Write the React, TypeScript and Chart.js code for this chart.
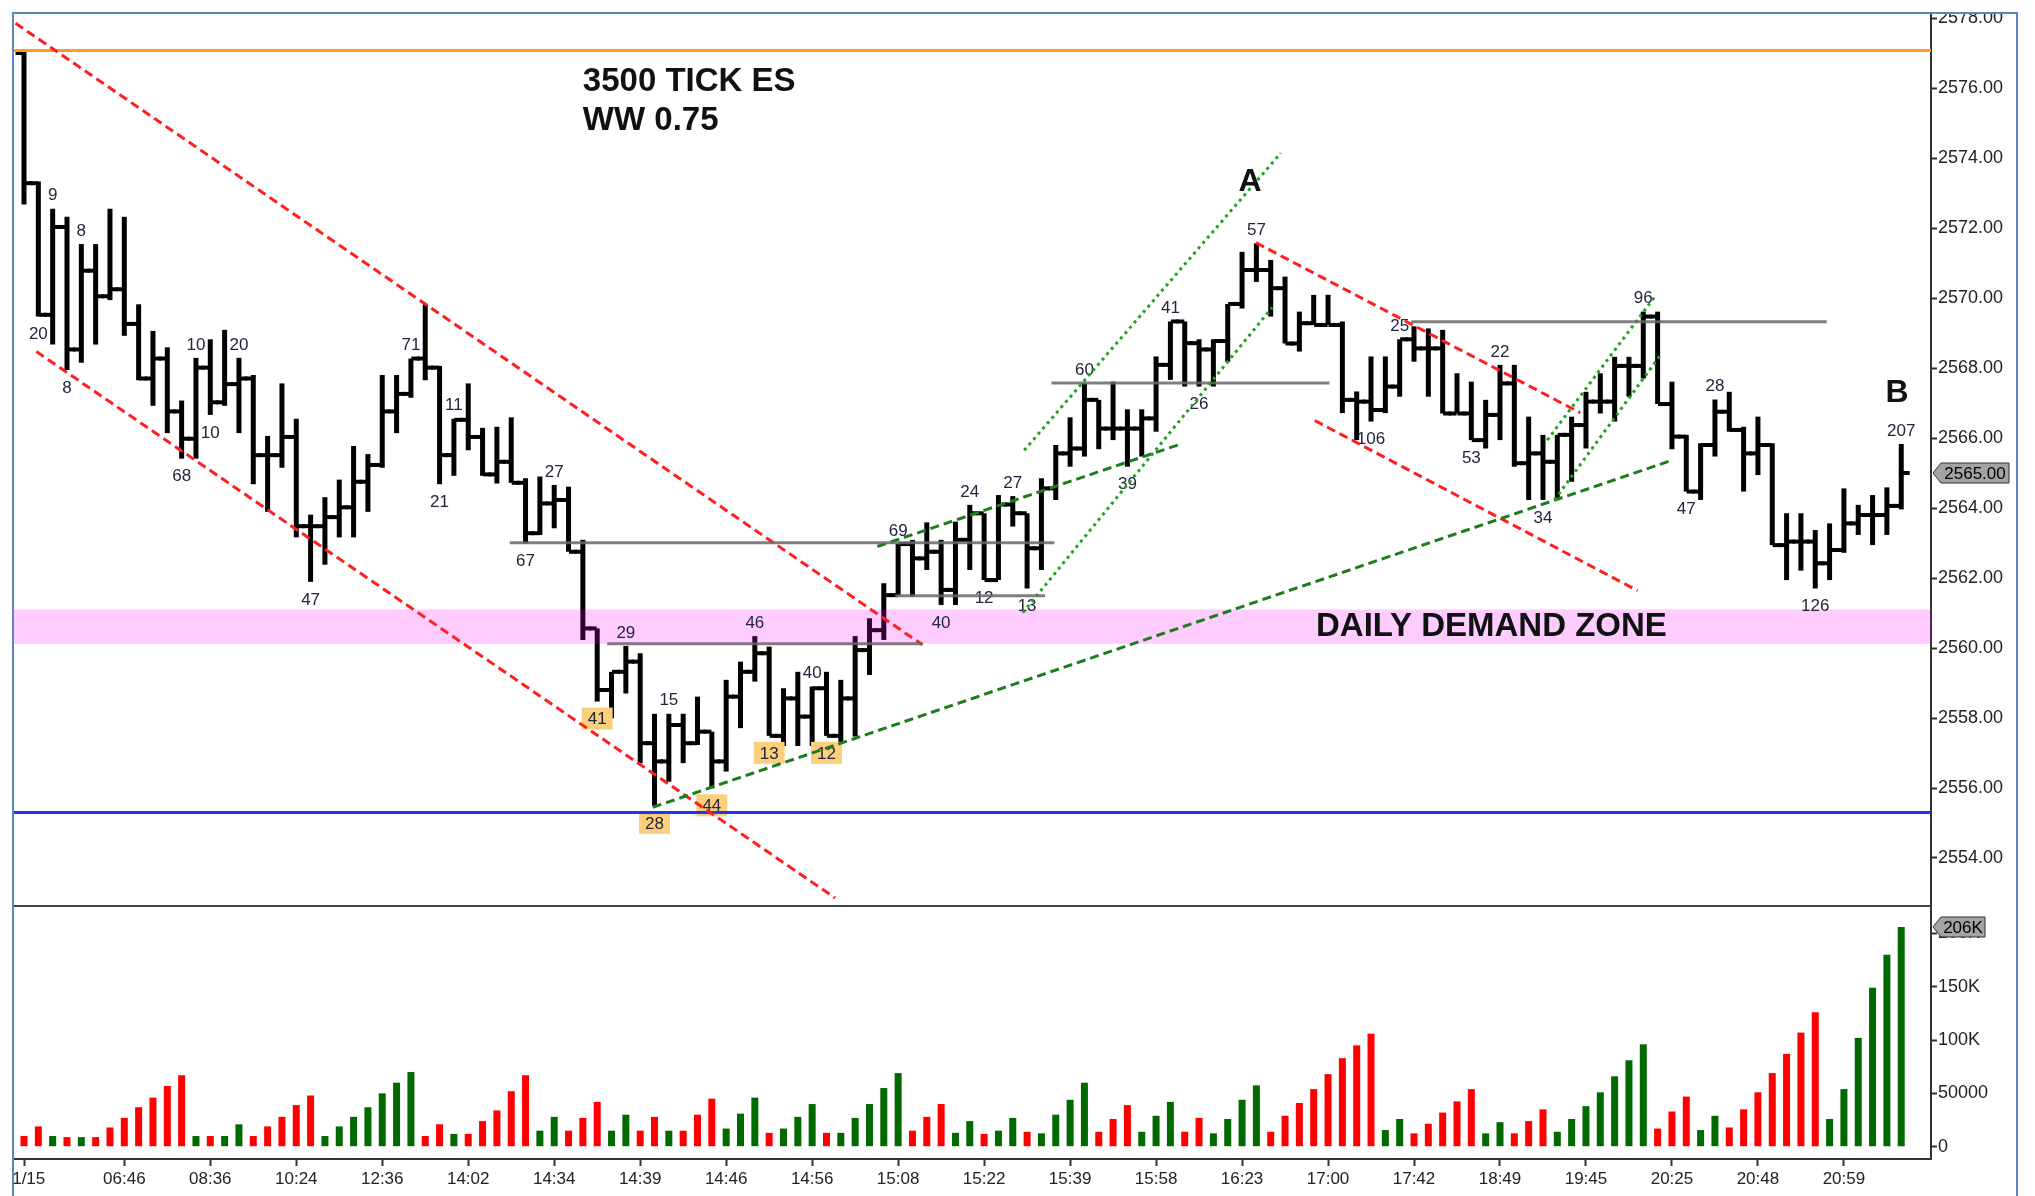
import React, { useEffect, useRef } from 'react';
import { Chart, registerables } from 'chart.js';

Chart.register(...registerables);

// ------------------------------------------------------------------ data
const barHigh = [
  2577.08, 2573.33, 2572.55, 2572.32, 2571.54, 2571.54, 2572.55, 2572.32, 2569.82, 2569.06,
  2568.59, 2567.07, 2568.29, 2568.82, 2569.09, 2568.29, 2567.80, 2566.06, 2567.56, 2566.55,
  2563.81, 2564.31, 2564.81, 2565.77, 2565.54, 2567.80, 2567.80, 2568.27, 2569.82, 2568.06,
  2566.55, 2567.56, 2566.29, 2566.32, 2566.59, 2564.85, 2564.90, 2564.66, 2564.61, 2563.09,
  2560.56, 2559.32, 2560.06, 2559.85, 2558.12, 2558.12, 2558.12, 2558.61, 2557.61, 2559.09,
  2559.61, 2560.34, 2560.04, 2558.85, 2559.32, 2558.90, 2559.32, 2559.09, 2560.34, 2560.85,
  2561.85, 2562.97, 2563.09, 2563.59, 2563.09, 2563.61, 2564.09, 2563.85, 2564.37, 2564.34,
  2563.85, 2564.85, 2565.80, 2566.59, 2567.56, 2567.09, 2567.61, 2566.82, 2566.82, 2568.33,
  2569.33, 2569.33, 2568.82, 2568.82, 2569.83, 2571.32, 2571.56, 2571.09, 2570.61, 2569.61,
  2570.09, 2570.09, 2569.33, 2567.33, 2568.33, 2568.33, 2568.82, 2569.19, 2569.13, 2569.09,
  2567.85, 2567.61, 2567.09, 2568.09, 2568.09, 2566.61, 2566.09, 2566.09, 2566.61, 2567.32,
  2567.85, 2568.32, 2568.32, 2569.61, 2569.61, 2567.61, 2566.09, 2565.85, 2567.10, 2567.32,
  2566.32, 2566.61, 2565.85, 2563.85, 2563.85, 2563.37, 2563.56, 2564.56, 2564.09, 2564.37,
  2564.59, 2565.83,
];

const barLow = [
  2572.67, 2569.47, 2568.67, 2567.94, 2568.15, 2568.67, 2569.94, 2568.92, 2567.65, 2566.92,
  2566.14, 2565.41, 2565.41, 2566.66, 2566.92, 2566.14, 2564.68, 2563.89, 2565.15, 2563.16,
  2561.89, 2562.38, 2563.16, 2563.16, 2563.89, 2565.15, 2566.14, 2567.15, 2567.65, 2564.68,
  2564.92, 2565.65, 2564.92, 2564.70, 2564.72, 2562.99, 2563.23, 2563.42, 2562.75, 2560.23,
  2558.47, 2557.99, 2558.70, 2556.71, 2555.49, 2556.18, 2556.71, 2557.23, 2555.99, 2556.47,
  2557.71, 2559.04, 2557.49, 2557.20, 2557.20, 2557.20, 2557.49, 2557.28, 2557.47, 2559.23,
  2560.23, 2561.51, 2561.47, 2562.23, 2561.23, 2561.23, 2562.23, 2561.94, 2561.94, 2563.47,
  2561.70, 2562.23, 2564.23, 2565.18, 2565.47, 2565.68, 2565.94, 2565.18, 2565.47, 2566.18,
  2567.66, 2567.47, 2567.47, 2567.47, 2568.18, 2569.70, 2570.46, 2569.47, 2568.70, 2568.47,
  2569.23, 2569.23, 2566.71, 2565.94, 2566.47, 2566.71, 2567.18, 2568.18, 2567.18, 2566.70,
  2566.70, 2565.94, 2565.70, 2565.94, 2565.18, 2564.23, 2564.23, 2564.28, 2564.75, 2565.70,
  2566.70, 2566.47, 2567.18, 2567.70, 2566.97, 2565.68, 2564.47, 2564.23, 2565.47, 2566.18,
  2564.47, 2564.94, 2562.94, 2561.94, 2562.21, 2561.70, 2561.94, 2562.72, 2563.23, 2562.94,
  2563.23, 2563.96,
];

const barClose = [
  2573.28, 2569.52, 2572.03, 2568.53, 2570.78, 2570.05, 2570.25, 2569.26, 2567.70, 2568.27,
  2566.76, 2565.98, 2568.01, 2567.02, 2567.54, 2567.70, 2565.51, 2565.51, 2566.03, 2563.48,
  2563.48, 2563.74, 2564.02, 2564.75, 2565.23, 2566.76, 2567.26, 2568.27, 2568.01, 2565.51,
  2566.52, 2566.03, 2564.96, 2565.32, 2564.72, 2563.28, 2564.13, 2564.23, 2562.75, 2560.56,
  2558.80, 2559.32, 2559.61, 2557.28, 2556.76, 2557.80, 2557.28, 2557.61, 2556.76, 2558.61,
  2559.32, 2559.85, 2557.49, 2558.56, 2558.04, 2558.85, 2557.49, 2558.56, 2559.94, 2560.51,
  2561.51, 2562.97, 2562.56, 2562.75, 2561.66, 2563.09, 2563.85, 2561.94, 2564.10, 2563.85,
  2562.85, 2564.56, 2565.56, 2565.70, 2567.09, 2566.27, 2566.27, 2566.27, 2566.56, 2568.09,
  2569.33, 2568.71, 2568.53, 2568.77, 2569.83, 2570.80, 2570.80, 2570.28, 2568.70, 2569.28,
  2569.23, 2569.23, 2567.09, 2567.04, 2566.80, 2567.47, 2568.82, 2568.56, 2568.56, 2566.70,
  2566.70, 2565.94, 2566.66, 2567.56, 2565.28, 2565.56, 2565.32, 2566.09, 2566.37, 2567.04,
  2567.04, 2568.06, 2568.06, 2569.47, 2566.97, 2566.04, 2564.47, 2565.80, 2566.75, 2566.23,
  2565.56, 2565.80, 2562.94, 2563.04, 2563.04, 2562.42, 2562.80, 2563.56, 2563.80, 2563.80,
  2564.06, 2565.00,
];

const firstOpen = 2577.0;

// cumulative wave volume, thousands of contracts
const waveVolumeK = [
  10, 19, 10, 9, 9, 9, 18, 27, 37, 46,
  57, 67, 10, 10, 10, 21, 10, 19, 28, 39,
  48, 10, 19, 28, 37, 50, 60, 70, 10, 21,
  12, 12, 24, 34, 52, 67, 15, 28, 15, 27,
  42, 15, 30, 15, 28, 15, 15, 30, 45, 17,
  31, 46, 13, 17, 28, 40, 13, 13, 27, 40,
  55, 69, 15, 28, 40, 13, 24, 12, 15, 27,
  14, 12.5, 30, 44, 60, 14, 26, 39, 14, 29,
  42, 14, 27, 12.5, 26, 44, 57.5, 14, 29, 41,
  54, 68, 83, 95, 106, 15.6, 26, 12.5, 21.5, 32,
  42.5, 54, 12.5, 23, 12.5, 24, 35, 14, 26, 38,
  51, 66, 81, 96, 17, 33, 47, 15.6, 29, 18,
  35, 51, 69, 87, 107, 126, 26, 54, 102, 149,
  180, 206,
];

// wave direction per bar: u = up wave, d = down wave
const waveDirection =
  'ddududdddd' + 'dduduudddd' + 'duuuuuuudd' + 'uddddduudd' + 'duuddudddu' +
  'uuduuuduuu' + 'uuddduuduu' + 'duuuuddduu' + 'udduuuuddd' + 'ddddduuddd' +
  'dduuddduuu' + 'uuuuddduud' + 'dddddduuuu' + 'uu';

const timeTickBars = [0, 7, 13, 19, 25, 31, 37, 43, 49, 55, 61, 67, 73, 79, 85, 91, 97, 103, 109, 115, 121, 127];
const timeTickLabels = ['01/15', '06:46', '08:36', '10:24', '12:36', '14:02', '14:34', '14:39', '14:46', '14:56', '15:08',
  '15:22', '15:39', '15:58', '16:23', '17:00', '17:42', '18:49', '19:45', '20:25', '20:48', '20:59'];

const priceTickValues = [2554, 2556, 2558, 2560, 2562, 2564, 2566, 2568, 2570, 2572, 2574, 2576, 2578];
const volumeTickValues = [0, 50000, 100000, 150000, 200000];

// wave-total labels: [bar, text, a = above high / b = below low, boxed]
const waveLabels: [number, string, string, boolean][] = [
  [1, '20', 'b', false], [2, '9', 'a', false], [3, '8', 'b', false], [4, '8', 'a', false],
  [11, '68', 'b', false], [12, '10', 'a', false], [13, '10', 'b', false], [15, '20', 'a', false],
  [20, '47', 'b', false], [27, '71', 'a', false], [29, '21', 'b', false], [30, '11', 'a', false],
  [35, '67', 'b', false], [37, '27', 'a', false], [40, '41', 'b', true], [42, '29', 'a', false],
  [44, '28', 'b', true], [45, '15', 'a', false], [48, '44', 'b', true], [51, '46', 'a', false],
  [52, '13', 'b', true], [55, '40', 'a', false], [56, '12', 'b', true], [61, '69', 'a', false],
  [64, '40', 'b', false], [66, '24', 'a', false], [67, '12', 'b', false], [69, '27', 'a', false],
  [70, '13', 'b', false], [74, '60', 'a', false], [77, '39', 'b', false], [80, '41', 'a', false],
  [82, '26', 'b', false], [86, '57', 'a', false], [94, '106', 'b', false], [96, '25', 'a', false],
  [101, '53', 'b', false], [103, '22', 'a', false], [106, '34', 'b', false], [113, '96', 'a', false],
  [116, '47', 'b', false], [118, '28', 'a', false], [125, '126', 'b', false], [131, '207', 'a', false],
];

const resistanceLevel = 2577.07;
const supportLevel = 2555.3;
const demandZone = [2560.12, 2561.1];

// drawn lines in (bar, price) coordinates: [x1, p1, x2, p2, kind]
const trendLines: [number, number, number, number, string][] = [
  [-0.59, 2577.85, 62.7, 2560.09, 'red'],
  [0.86, 2568.47, 56.6, 2552.86, 'red'],
  [85.97, 2571.58, 108.6, 2566.72, 'red'],
  [90.07, 2566.5, 112.6, 2561.64, 'red'],
  [43.88, 2555.45, 114.9, 2565.35, 'green'],
  [59.55, 2562.9, 80.74, 2565.83, 'green'],
  [69.8, 2565.65, 87.7, 2574.14, 'dot'],
  [69.7, 2561.01, 87.1, 2569.73, 'dot'],
  [106.3, 2565.94, 113.9, 2570.09, 'dot'],
  [106.8, 2564.23, 114.2, 2568.37, 'dot'],
  [33.9, 2563.01, 71.9, 2563.01, 'gray'],
  [40.7, 2560.12, 62.7, 2560.12, 'gray'],
  [60.8, 2561.49, 71.25, 2561.49, 'gray'],
  [71.7, 2567.57, 91.1, 2567.57, 'gray'],
  [96.8, 2569.32, 125.8, 2569.32, 'gray'],
];

// text notes: [bar, price, text, align, font size]
const notes: [number, number, string, string, number][] = [
  [39.0, 2576.17, '3500 TICK ES', 'left', 33],
  [39.0, 2575.06, 'WW 0.75', 'left', 33],
  [85.55, 2573.31, 'A', 'center', 32],
  [130.7, 2567.29, 'B', 'center', 32],
  [90.16, 2560.6, 'DAILY DEMAND ZONE', 'left', 33],
];

// ------------------------------------------------------------------ layout
const FONT = '"Liberation Sans", Arial, Helvetica, sans-serif';
const CANVAS_LEFT = 14;
const AXIS_X = 1931;
const BAR0_X = 24;
const BAR_STEP = 14.33;
const X_MIN = (CANVAS_LEFT - BAR0_X) / BAR_STEP;
const X_MAX = (AXIS_X - BAR0_X) / BAR_STEP;
const PRICE_TOP = 14;
const PRICE_BOTTOM = 905;
const Y_MAX = 2576 + (88 - PRICE_TOP) / 35;
const Y_MIN = 2576 - (PRICE_BOTTOM - 88) / 35;
const VOL_TOP = 905;
const VOL_ZERO = 1146.7;
const VOL_BOTTOM = 1159;
const V_MAX = ((VOL_ZERO - VOL_TOP) / 53.33) * 50000;
const V_MIN = -((VOL_BOTTOM - VOL_ZERO) / 53.33) * 50000;
const Y_AXIS_W = 87;

const lineStyles: Record<string, { color: string; width: number; dash: number[] }> = {
  red: { color: '#ff1f1f', width: 3, dash: [9, 5] },
  green: { color: '#1d7d1d', width: 3, dash: [9, 5] },
  dot: { color: '#1fa31f', width: 3, dash: [3, 4] },
  gray: { color: 'rgba(105,105,105,0.85)', width: 3, dash: [] },
};

function drawTag(ctx: CanvasRenderingContext2D, axisX: number, yPix: number, text: string, w: number) {
  const h = 20;
  ctx.save();
  ctx.beginPath();
  ctx.moveTo(axisX + 2, yPix);
  ctx.lineTo(axisX + 10, yPix - h / 2);
  ctx.lineTo(axisX + 10 + w, yPix - h / 2);
  ctx.lineTo(axisX + 10 + w, yPix + h / 2);
  ctx.lineTo(axisX + 10, yPix + h / 2);
  ctx.closePath();
  ctx.fillStyle = '#a3a3a3';
  ctx.fill();
  ctx.strokeStyle = '#333';
  ctx.lineWidth = 1;
  ctx.stroke();
  ctx.fillStyle = '#000';
  ctx.font = `17px ${FONT}`;
  ctx.textAlign = 'center';
  ctx.textBaseline = 'middle';
  ctx.fillText(text, axisX + 10 + w / 2, yPix + 1);
  ctx.restore();
}

const pricePlugin = {
  id: 'priceAnnotations',
  afterDatasetsDraw(chart: any) {
    const { ctx, chartArea: a } = chart;
    const x = chart.scales.x;
    const y = chart.scales.y;
    ctx.save();
    ctx.beginPath();
    ctx.rect(a.left, a.top, a.right - a.left, a.bottom - a.top);
    ctx.clip();

    // demand zone (translucent overlay)
    const zt = y.getPixelForValue(demandZone[1]);
    const zb = y.getPixelForValue(demandZone[0]);
    ctx.fillStyle = 'rgba(255,0,255,0.2)';
    ctx.fillRect(a.left, zt, a.right - a.left, zb - zt);

    // wave labels
    ctx.font = `17px ${FONT}`;
    ctx.textAlign = 'center';
    ctx.textBaseline = 'middle';
    waveLabels.forEach(([bar, text, side, boxed]) => {
      const px = x.getPixelForValue(bar);
      const py = side === 'a' ? y.getPixelForValue(barHigh[bar]) - 14 : y.getPixelForValue(barLow[bar]) + 17;
      if (boxed) {
        const tw = ctx.measureText(text).width + 12;
        ctx.fillStyle = '#fbd07c';
        ctx.fillRect(px - tw / 2, py - 11, tw, 22);
      }
      ctx.fillStyle = '#24243c';
      ctx.fillText(text, px, py + 1);
    });

    // level lines
    ctx.lineWidth = 3;
    ctx.setLineDash([]);
    ctx.strokeStyle = '#ff9a22';
    let ly = y.getPixelForValue(resistanceLevel);
    ctx.beginPath(); ctx.moveTo(a.left, ly); ctx.lineTo(a.right, ly); ctx.stroke();
    ctx.strokeStyle = '#2233f2';
    ly = y.getPixelForValue(supportLevel);
    ctx.beginPath(); ctx.moveTo(a.left, ly); ctx.lineTo(a.right, ly); ctx.stroke();

    // trend lines
    trendLines.forEach(([x1, p1, x2, p2, kind]) => {
      const st = lineStyles[kind];
      ctx.strokeStyle = st.color;
      ctx.lineWidth = st.width;
      ctx.setLineDash(st.dash);
      ctx.beginPath();
      ctx.moveTo(x.getPixelForValue(x1), y.getPixelForValue(p1));
      ctx.lineTo(x.getPixelForValue(x2), y.getPixelForValue(p2));
      ctx.stroke();
    });
    ctx.setLineDash([]);

    // notes
    ctx.fillStyle = '#111';
    ctx.textBaseline = 'middle';
    notes.forEach(([bar, price, text, align, size]) => {
      ctx.font = `bold ${size}px ${FONT}`;
      ctx.textAlign = align as CanvasTextAlign;
      ctx.fillText(text, x.getPixelForValue(bar), y.getPixelForValue(price));
    });
    ctx.restore();
  },
  afterDraw(chart: any) {
    const y = chart.scales.y;
    const last = barClose[barClose.length - 1];
    drawTag(chart.ctx, chart.chartArea.right, y.getPixelForValue(last), last.toFixed(2), 68);
  },
};

const volumePlugin = {
  id: 'volumeExtras',
  afterDraw(chart: any) {
    const { ctx, chartArea: a } = chart;
    const y = chart.scales.y;
    ctx.save();
    ctx.strokeStyle = '#444';
    ctx.lineWidth = 2;
    ctx.beginPath();
    ctx.moveTo(0, a.top + 1);
    ctx.lineTo(a.right, a.top + 1);
    ctx.stroke();
    ctx.restore();
    const last = waveVolumeK[waveVolumeK.length - 1];
    drawTag(ctx, a.right, y.getPixelForValue(last * 1000), `${Math.round(last)}K`, 44);
  },
};

const yAxisFit = (s: any) => {
  s.width = Y_AXIS_W;
  s.paddingTop = 0;
  s.paddingBottom = 0;
};

export default function App() {
  const priceRef = useRef<HTMLCanvasElement>(null);
  const volRef = useRef<HTMLCanvasElement>(null);

  useEffect(() => {
    const idx = barHigh.map((_, i) => i);
    const opens = barClose.map((_, i) => (i === 0 ? firstOpen : barClose[i - 1]));
    const T = 0.057;

    const priceChart = new Chart(priceRef.current as HTMLCanvasElement, {
      type: 'bar',
      data: {
        datasets: [
          {
            label: 'range',
            data: idx.map((i) => ({ x: i, y: [barLow[i], barHigh[i]] })) as any,
            backgroundColor: '#000',
            borderWidth: 0,
            barThickness: 5,
            grouped: false,
            inflateAmount: 0,
          },
          {
            label: 'open',
            data: idx.map((i) => ({ x: i - 0.31, y: [opens[i] - T, opens[i] + T] })) as any,
            backgroundColor: '#000',
            borderWidth: 0,
            barThickness: 8,
            grouped: false,
            inflateAmount: 0,
          },
          {
            label: 'close',
            data: idx.map((i) => ({ x: i + 0.31, y: [barClose[i] - T, barClose[i] + T] })) as any,
            backgroundColor: '#000',
            borderWidth: 0,
            barThickness: 8,
            grouped: false,
            inflateAmount: 0,
          },
        ],
      },
      options: {
        animation: false,
        responsive: false,
        devicePixelRatio: 1,
        layout: { padding: 0 },
        plugins: { legend: { display: false }, tooltip: { enabled: false } },
        scales: {
          x: { type: 'linear', min: X_MIN, max: X_MAX, display: false, offset: false, grid: { offset: false } },
          y: {
            type: 'linear',
            position: 'right',
            min: Y_MIN,
            max: Y_MAX,
            beginAtZero: false,
            afterBuildTicks: (s: any) => {
              s.ticks = priceTickValues.map((v) => ({ value: v }));
            },
            afterFit: yAxisFit,
            ticks: {
              callback: (v: any) => Number(v).toFixed(2),
              font: { family: FONT, size: 18 },
              color: '#222',
              padding: 1,
            },
            grid: { drawOnChartArea: false, drawTicks: true, tickLength: 6, tickColor: '#333', tickWidth: 2 },
            border: { color: '#333', width: 2 },
          },
        },
      } as any,
      plugins: [pricePlugin],
    });

    const volChart = new Chart(volRef.current as HTMLCanvasElement, {
      type: 'bar',
      data: {
        datasets: [
          {
            label: 'volume',
            data: idx.map((i) => ({ x: i, y: waveVolumeK[i] * 1000 })) as any,
            backgroundColor: idx.map((i) => (waveDirection[i] === 'u' ? '#006a00' : '#ff0000')),
            borderWidth: 0,
            barThickness: 7,
            grouped: false,
            inflateAmount: 0,
          },
        ],
      },
      options: {
        animation: false,
        responsive: false,
        devicePixelRatio: 1,
        layout: { padding: 0 },
        plugins: { legend: { display: false }, tooltip: { enabled: false } },
        scales: {
          x: {
            type: 'linear',
            min: X_MIN,
            max: X_MAX,
            offset: false,
            afterBuildTicks: (s: any) => {
              s.ticks = timeTickBars.map((v) => ({ value: v }));
            },
            afterFit: (s: any) => {
              s.height = 37;
              s.paddingLeft = 0;
              s.paddingRight = 0;
            },
            ticks: {
              callback: (_v: any, i: number) => timeTickLabels[i],
              font: { family: FONT, size: 17 },
              color: '#222',
              padding: 3,
              maxRotation: 0,
              autoSkip: false,
            },
            grid: { drawOnChartArea: false, drawTicks: true, tickLength: 7, tickColor: '#333', tickWidth: 2, offset: false },
            border: { color: '#333', width: 2 },
          },
          y: {
            type: 'linear',
            position: 'right',
            min: V_MIN,
            max: V_MAX,
            afterBuildTicks: (s: any) => {
              s.ticks = volumeTickValues.map((v) => ({ value: v }));
            },
            afterFit: yAxisFit,
            ticks: {
              callback: (v: any) => (Number(v) >= 100000 ? `${Math.round(Number(v) / 1000)}K` : `${v}`),
              font: { family: FONT, size: 18 },
              color: '#222',
              padding: 1,
            },
            grid: { drawOnChartArea: false, drawTicks: true, tickLength: 6, tickColor: '#333', tickWidth: 2 },
            border: { color: '#333', width: 2 },
          },
        },
      } as any,
      plugins: [volumePlugin],
    });

    return () => {
      priceChart.destroy();
      volChart.destroy();
    };
  }, []);

  return (
    <div style={{ position: 'absolute', left: 0, top: 0, width: 2035, height: 1196, background: '#fff', overflow: 'hidden' }}>
      <div
        style={{
          position: 'absolute',
          left: 12,
          top: 12,
          width: 2002,
          height: 1200,
          borderLeft: '2px solid #5b86c6',
          borderTop: '2px solid #5b86c6',
          borderRight: '2px solid #5b86c6',
        }}
      />
      <canvas ref={priceRef} width={2004} height={891} style={{ position: 'absolute', left: CANVAS_LEFT, top: PRICE_TOP }} />
      <canvas ref={volRef} width={2004} height={291} style={{ position: 'absolute', left: CANVAS_LEFT, top: VOL_TOP }} />
    </div>
  );
}
